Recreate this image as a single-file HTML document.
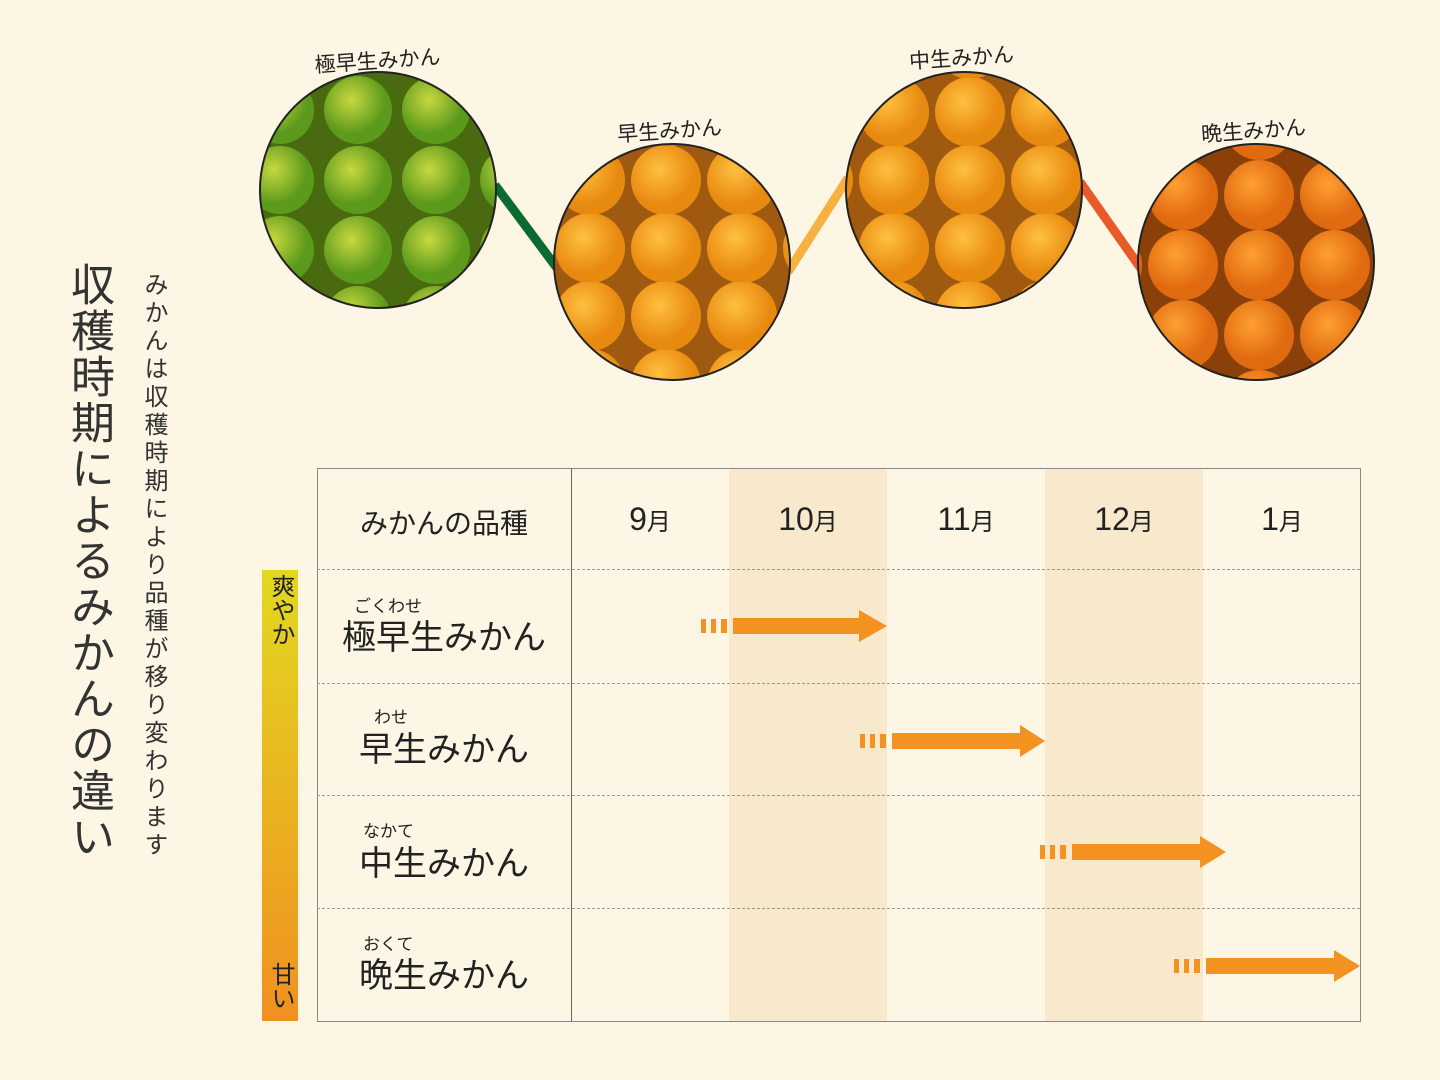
<!DOCTYPE html><html><head><meta charset="utf-8"><style>
body{margin:0;width:1440px;height:1080px;background:#fdf6e4;position:relative;overflow:hidden;font-family:"Liberation Sans","Noto Sans CJK JP",sans-serif;color:#222}
.a{position:absolute}
.v{writing-mode:vertical-rl;position:absolute}
.lbl{position:absolute;font-size:34px;text-align:center;width:254px;left:317px}
.rb{position:absolute;font-size:17px}
</style></head><body>
<div class="v" style="left:56px;top:262px;font-size:44px;letter-spacing:2px;color:#333">収穫時期によるみかんの違い</div>
<div class="v" style="left:136px;top:272px;font-size:24px;letter-spacing:4px;color:#333">みかんは収穫時期により品種が移り変わります</div>

<svg class="a" style="left:0;top:0" width="1440" height="400">
<defs>
<radialGradient id="f1" cx="0.4" cy="0.35"><stop offset="0" stop-color="#c8d840"/><stop offset="1" stop-color="#5c9a1c"/></radialGradient>
<radialGradient id="f2" cx="0.4" cy="0.35"><stop offset="0" stop-color="#ffc040"/><stop offset="1" stop-color="#e88a10"/></radialGradient>
<radialGradient id="f4" cx="0.4" cy="0.35"><stop offset="0" stop-color="#ffa030"/><stop offset="1" stop-color="#e06a10"/></radialGradient>
<clipPath id="c1"><circle cx="378" cy="190" r="118"/></clipPath>
<clipPath id="c2"><circle cx="672" cy="262" r="118"/></clipPath>
<clipPath id="c3"><circle cx="964" cy="190" r="118"/></clipPath>
<clipPath id="c4"><circle cx="1256" cy="262" r="118"/></clipPath>
<pattern id="p1" width="78" height="70" patternUnits="userSpaceOnUse" x="10" y="5"><rect width="78" height="70" fill="#4a6a10"/><circle cx="36" cy="35" r="34" fill="url(#f1)"/></pattern>
<pattern id="p2" width="76" height="68" patternUnits="userSpaceOnUse" x="20" y="10"><rect width="76" height="68" fill="#a05a10"/><circle cx="38" cy="34" r="35" fill="url(#f2)"/></pattern>
<pattern id="p4" width="76" height="70" patternUnits="userSpaceOnUse" x="5" y="20"><rect width="76" height="70" fill="#8a4008"/><circle cx="38" cy="35" r="35" fill="url(#f4)"/></pattern>
</defs>
<line x1="495" y1="185" x2="557" y2="268" stroke="#0a6a30" stroke-width="9"/>
<line x1="788" y1="272" x2="848" y2="178" stroke="#f8b040" stroke-width="9"/>
<line x1="1080" y1="182" x2="1142" y2="270" stroke="#e85a28" stroke-width="9"/>
<g clip-path="url(#c1)"><rect x="250" y="60" width="260" height="260" fill="url(#p1)"/></g>
<g clip-path="url(#c2)"><rect x="550" y="140" width="260" height="260" fill="url(#p2)"/></g>
<g clip-path="url(#c3)"><rect x="840" y="60" width="260" height="260" fill="url(#p2)"/></g>
<g clip-path="url(#c4)"><rect x="1130" y="140" width="260" height="260" fill="url(#p4)"/></g>
<circle cx="378" cy="190" r="118" fill="none" stroke="#222" stroke-width="2"/>
<circle cx="672" cy="262" r="118" fill="none" stroke="#222" stroke-width="2"/>
<circle cx="964" cy="190" r="118" fill="none" stroke="#222" stroke-width="2"/>
<circle cx="1256" cy="262" r="118" fill="none" stroke="#222" stroke-width="2"/>
<g font-size="21" fill="#222" font-family="Liberation Sans,Noto Sans CJK JP,sans-serif">
<text x="378" y="68" text-anchor="middle" transform="rotate(-4 378 68)">極早生みかん</text>
<text x="670" y="138" text-anchor="middle" transform="rotate(-4 670 138)">早生みかん</text>
<text x="962" y="65" text-anchor="middle" transform="rotate(-4 962 65)">中生みかん</text>
<text x="1254" y="138" text-anchor="middle" transform="rotate(-4 1254 138)">晩生みかん</text>
</g>
</svg>

<div class="a" style="left:262px;top:570px;width:36px;height:451px;background:linear-gradient(#e2d820,#f09020)"></div>
<div class="v" style="left:264px;top:574px;font-size:24px;line-height:32px">爽やか</div>
<div class="v" style="left:264px;top:962px;font-size:24px;line-height:32px">甘い</div>

<div class="a" style="left:729px;top:469px;width:158px;height:552px;background:#f8e9cc"></div>
<div class="a" style="left:1045px;top:469px;width:158px;height:552px;background:#f8e9cc"></div>
<div class="a" style="left:317px;top:468px;width:1042px;height:552px;border:1px solid #888"></div>
<div class="a" style="left:571px;top:468px;width:1px;height:553px;background:#666"></div>
<div class="a" style="left:317px;top:569px;width:1043px;border-top:1px dashed #999"></div>
<div class="a" style="left:317px;top:683px;width:1043px;border-top:1px dashed #999"></div>
<div class="a" style="left:317px;top:795px;width:1043px;border-top:1px dashed #999"></div>
<div class="a" style="left:317px;top:908px;width:1043px;border-top:1px dashed #999"></div>

<div class="a" style="left:317px;width:254px;top:502px;text-align:center;font-size:28px">みかんの品種</div>
<div class="a" style="left:571px;width:158px;top:501px;text-align:center;font-size:32px">9<span style="font-size:24px">月</span></div>
<div class="a" style="left:729px;width:158px;top:501px;text-align:center;font-size:32px">10<span style="font-size:24px">月</span></div>
<div class="a" style="left:887px;width:158px;top:501px;text-align:center;font-size:32px">11<span style="font-size:24px">月</span></div>
<div class="a" style="left:1045px;width:158px;top:501px;text-align:center;font-size:32px">12<span style="font-size:24px">月</span></div>
<div class="a" style="left:1203px;width:158px;top:501px;text-align:center;font-size:32px">1<span style="font-size:24px">月</span></div>

<div class="rb" style="left:354px;top:592px">ごくわせ</div>
<div class="lbl" style="top:610px">極早生みかん</div>
<div class="rb" style="left:374px;top:703px">わせ</div>
<div class="lbl" style="top:722px">早生みかん</div>
<div class="rb" style="left:363px;top:817px">なかて</div>
<div class="lbl" style="top:836px">中生みかん</div>
<div class="rb" style="left:363px;top:930px">おくて</div>
<div class="lbl" style="top:948px">晩生みかん</div>

<svg class="a" style="left:0;top:0" width="1440" height="1080">
<g fill="#f39220">
<g transform="translate(701,626)"><rect x="0" y="-7" width="5" height="14"/><rect x="10" y="-7" width="5" height="14"/><rect x="20" y="-7" width="6" height="14"/><rect x="32" y="-8" width="128" height="16"/><polygon points="158,-16 186,0 158,16"/></g>
<g transform="translate(860,741)"><rect x="0" y="-7" width="5" height="14"/><rect x="10" y="-7" width="5" height="14"/><rect x="20" y="-7" width="6" height="14"/><rect x="32" y="-8" width="130" height="16"/><polygon points="160,-16 185,0 160,16"/></g>
<g transform="translate(1040,852)"><rect x="0" y="-7" width="5" height="14"/><rect x="10" y="-7" width="5" height="14"/><rect x="20" y="-7" width="6" height="14"/><rect x="32" y="-8" width="130" height="16"/><polygon points="160,-16 186,0 160,16"/></g>
<g transform="translate(1174,966)"><rect x="0" y="-7" width="5" height="14"/><rect x="10" y="-7" width="5" height="14"/><rect x="20" y="-7" width="6" height="14"/><rect x="32" y="-8" width="130" height="16"/><polygon points="160,-16 186,0 160,16"/></g>
</g></svg>
</body></html>
